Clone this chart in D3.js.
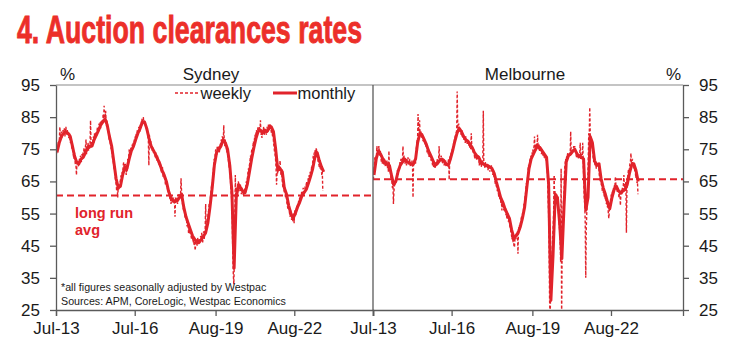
<!DOCTYPE html>
<html><head><meta charset="utf-8">
<script src="https://cdn.jsdelivr.net/npm/d3@7"></script>
<style>
body{margin:0;background:#fff;}
svg{display:block;font-family:"Liberation Sans",Arial,Helvetica,sans-serif;}
</style>
</head><body>
<svg id="chart" width="741" height="355"></svg>
<script>
// ---------- DATA ----------
const titleText = "4. Auction clearances rates";
const panels = ["Sydney", "Melbourne"];
const yTicks = [25, 35, 45, 55, 65, 75, 85, 95];
const xTickDates = ["2013-07-01", "2016-07-01", "2019-08-01", "2022-08-01", "2025-08-01"];
const xTickLabels = ["Jul-13", "Jul-16", "Aug-19", "Aug-22", ""];
const legendLabels = ["weekly", "monthly"];
const longRunAvg = { Sydney: 60.6, Melbourne: 65.7 };
const monthlyStart = [2013, 6];     // first monthly observation: Jul 2013
const weeklyStart = "2013-07-06";   // first weekly observation

const sydMonthly = [
74,77,79,80,80.5,80,79,76,73,71,
70.5,72,72.5,74,75.5,76,76,78,79.5,81,
82.5,83.5,84.5,82.5,79,76,71,66,63,63.5,
67,69.5,69,72,74.5,76,78,80,81.5,83.5,
83.5,81.5,78.5,76,74.8,73.5,72,70.5,68.5,67,
65,62,60,59,59,59,60,61,57,54,
52,50,48,47,46,46,47,48,49,52,
57,63,70,74,75,76,78,77,75,70,
62,38,60,64,63,62,61.5,64,68,72,
75.5,78.5,80.5,81,80,81,80.5,81.5,82,80.5,
75,68.5,69,68,63,61,57.5,55,53.5,55,
57,58.5,60.5,61.5,62.5,64.5,66.5,69,72.5,74,
71.5,69.5,68];

const melMonthly = [
67,72,74.5,73.5,72,71,70.5,70,67,64,
65,68,70,71,72,71,71,70.5,70.5,72,
77,80,79.5,78,76.5,74.5,73,71.5,70,70.5,
71.5,72,71.5,70.5,70,72,74.5,77.5,80,81.5,
80.5,79,78,77.5,76.5,75.5,74,73,72.5,71,
70.5,70,70,69.5,69,67.5,65,62.5,60,58.5,
56.5,55,53.5,50,47.5,48,49,51,53.5,57,
63,69,72,73.5,75,76,75.5,74.5,73.5,72.5,
64,28,42,61,60,52,41,57,71,73,
73.5,74.5,75,73.5,73,72.5,72,56,60,79,
77,71.5,70,70.5,66,63,61,58.5,56.5,60,
62.5,63.5,62,61.5,62,62.5,64,67.5,70,70.5,
68.5,65];

const sydWeekly = [
73.5,74.5,76,75,77.5,76,78,82,78.5,79,80.5,78.5,80,
81,79.5,80,81.5,79,80.5,82,80,79.5,81,80,79,78.5,
80,78.5,77,78,76.5,75,76,74.5,73,72,74,71.5,70,
70,67,71.5,70.5,71,69.5,71,72,71,73,72,71,73.5,
72,74,73,75.5,73,74.5,76,78,73.5,76,75,77,74.5,
76.5,75,77,84,75.5,77,76,78,77.5,79,77,80,78.5,
79,80.5,79,81,82,80.5,81.5,83,82,83.5,81.5,84,83,
84,83,86,84.5,88.5,85,84,87,83.5,82,84,81,80.5,
80,78,79.5,77,76.5,75,76,73.5,72,71.5,70,68.5,69,
66.5,65,64,62,63.5,60,63,62.5,64,63,65,66,67,
66,68,67,70,71,69.5,68,70.5,69,67,70,68,72,
71,73,75,72.5,74,75.5,73.5,75,76.5,75,77,76,78,
77,79,78.5,80,79,81,80.5,79.5,82,81,80.5,83,82,
83,84.5,82.5,84,85,83,84,82.5,83,81.5,82,80.5,81,
79,78,70,79.5,77,76,77.5,75,76,74.5,75.5,74,75,
74,73,72.5,74,72,71.5,73,72,71,70,71.5,69.5,70.5,
69,68,67.5,69.5,66.5,68,67,66,65.5,64,66,64.5,63,
63,61.5,62,60.5,61,59.5,60,58,59.5,60,58.5,59,60,
58,59.5,54,60,58.5,59,60,58,59.5,61,60,59.5,61,
60.5,66,62,60,58,57,56,58,55.5,54,53.5,55,53,
51,52.5,51,49,50.5,48.5,50,49,48,47,49,47.5,46,
47,45,46.5,43.5,45,47,46,45,47.5,46,45.5,47,46,
46.5,48,47,49,47.5,46,48,49.5,47,48.5,50,58,49.5,
51,53,52.5,55,56,58,57,59,61,62.5,64,63,66,
68,70,72,71,73.5,75,74,73,76,74.5,75.5,76,74,
75,77,76.5,78,77,79,78.5,77,82.5,77.5,76,78,76.5,
75.5,74,76,73,72,70.5,69,71,67,63,61,59,52,
42,36,33,40,52,67,58,60,63,62,64,65,64,
63.5,62,64,62.5,61,63,61.5,62,60.5,62,61,63,62,
63.5,65,64,66,67.5,69,68,70,71,73,72,74,75,
74.5,76,77.5,76,78,79.5,78,80,81,79.5,80,82,81,
80.5,82,81,84,79.5,80,78.5,81,80,82,81,79.5,80.5,
81,80,79.5,82,81,80.5,83,82,81.5,83,82.5,81,80,
81,79,80.5,77,76,74,73.5,72,69.5,64,68,67.5,69,
68.5,70,69,71.5,68,67,69,66,64,63,64.5,62,61.5,
61,60,62,59,58,57,56.5,58,56,55,54,56,54.5,
53,54,52.5,53.5,55,52,56,55,54.5,56,57.5,56,58,
57.5,59,58,60,59.5,61,60,62,61,60.5,63,62,61.5,
62,63.5,62.5,64,65,63.5,64,66,65,67,66,68,67,
68,70,69.5,71,73,72,74,73.5,75,73,75.5,74,72.5,
72,71,70.5,69.5,70,69,68.5,69,67,68,62];

const melWeekly = [
65.5,68,70,72.5,71,73,72,76,74,75,73.5,76,74,
73,74.5,72.5,71,73,70.5,72,71.5,70,72,71,69.5,71,
70,71.5,69,70.5,68,74.5,69,70,68,66,67.5,65,63,
64.5,58,62,63.5,65,64,66,65.5,67,68.5,67,69,68.5,
69,71,70,72,70.5,71.5,72,76,71,73,72,70.5,72,
71.5,70,72,71,72.5,70,71,72,70.5,69.5,71,70,71.5,
70,60,71,70.5,71,72,70.5,74,76,78,77,86,80.5,
81,84,80,79,80.5,78.5,80,79,77.5,78.5,77,78,76.5,
77,75.5,76,74,75,73.5,75,72.5,73,74,72,71.5,72.5,
71,70,72,69.5,70,71,69,70.5,71,70,72,70.5,71,
72,76,71,72.5,71.5,73,72,71,70.5,72,71.5,70,71,
70,71.5,69.5,71,70,70.5,71,72,65.5,71.5,73,72,74,
74,75,74.5,76,77,78,77.5,79,79.5,80,81,93,82,
81,83,82,80.5,81,80,79.5,81,79,78.5,80,78,79,
78,77,79,77.5,78,76.5,77,78,76,77,75.5,76.5,75,
80,76,75,74.5,74,75,73.5,72,74,73,72.5,71.5,73,
72,73,71.5,70,72,71,70.5,69.5,71,70,71.5,87,70,
70.5,69,71,70,69.5,70.5,70,68.5,69,70,69.5,68,69.5,
69,70,68.5,68,67,68.5,66.5,67,65.5,64,65,63.5,63,
62,63,61.5,60,61,59.5,60.5,58,59,56,58.5,57,57.5,
56,57,55.5,56,54.5,55,53.5,54.5,55,52.5,53.5,52,51,
50.5,49,48.5,47,48,46,47.5,45,44.5,47,48.5,47,49,
48.5,49.5,42.5,50,50.5,51.5,50,52,53,54,52.5,55,54,
56,58,57.5,60,61,63,64.5,62,66,68,70,69,71,
71.5,72.5,73,72,74,73.5,75,74,76,79,75,74.5,76,
77,75.5,79.5,76,75,76.5,74.5,76,75,74,73.5,75,74,
73,74,72.5,73.5,72,73,71.5,72,70,66,60,55,45,
28,22,30,35,38,42,48,50,55,67,60,62,61,
60,61,59,60.5,58,55,52,50,47,40,69,22,45,
52,56,60,62,69,70.5,72,71,73,72,74,72.5,73.5,
73,74,73,80.5,74,75,73.5,74,75,76,74.5,76,75,
74,73,72.5,74,73,72,73.5,72,73,77,72,73.5,72,
72.5,77,71,66,60,58,52,35,50,55,58,64,72,
80,79,88,79.5,77,76,78,75,74,72,71,73,70.5,
70,71,69,70.5,71,69.5,71,70,67,66,65,66.5,64,
64,62,63,61.5,62,60,61,59.5,60,58,59,57,58,
55,53.5,56,57,58.5,60,61,59,62,61.5,63,62,64,
63,66.5,64,62.5,63,61.5,62,63,60,61,62,57.5,61,
62.5,61,63,62,64,67,62.5,63,64,65,49,63,66,
67,68.5,68,69,70.5,71,73.8,70,71,72,70,69.5,70,
69,68,67.5,66,67,64.5,65,61];

// ---------- LAYOUT ----------
const plotTop = 85, plotBottom = 310;
const panelX = { Sydney: [56, 373], Melbourne: [373, 683] };
const panelEnd = { Sydney: new Date(2025, 7, 1), Melbourne: new Date(2025, 4, 1) };
const red = "#e1232b", axisCol = "#5a5a5a", frameCol = "#8a8a8a", txt = "#1a1a1a";

const svg = d3.select("#chart");
const y = d3.scaleLinear().domain([25, 95]).range([plotBottom, plotTop]);
const parse = d3.timeParse("%Y-%m-%d");
const tickDates = xTickDates.map(parse);
const wStart = parse(weeklyStart);
const mDate = i => new Date(monthlyStart[0], monthlyStart[1] + i, 15);
const wDate = i => d3.timeDay.offset(wStart, 7 * i);

svg.append("text").attr("x", 17).attr("y", 43)
  .attr("font-family", "'Liberation Sans Narrow','Liberation Sans',Arial,sans-serif")
  .attr("font-weight", "bold").attr("font-size", 39).attr("fill", "#ec2f29")
  .attr("stroke", "#ec2f29").attr("stroke-width", 0.9)
  .attr("textLength", 345).attr("lengthAdjust", "spacingAndGlyphs")
  .text(titleText);

const data = {
  Sydney: { monthly: sydMonthly, weekly: sydWeekly },
  Melbourne: { monthly: melMonthly, weekly: melWeekly }
};

panels.forEach((name, pi) => {
  const [x0, x1] = panelX[name];
  const x = d3.scaleTime().domain([tickDates[0], panelEnd[name]]).range([x0, x1]);
  const clipId = "clip" + pi;
  svg.append("clipPath").attr("id", clipId).append("rect")
    .attr("x", x0).attr("y", plotTop).attr("width", x1 - x0).attr("height", plotBottom - plotTop);
  const g = svg.append("g").attr("clip-path", `url(#${clipId})`);

  g.append("line").attr("x1", x0).attr("x2", x1)
    .attr("y1", y(longRunAvg[name])).attr("y2", y(longRunAvg[name]))
    .attr("stroke", red).attr("stroke-width", 2).attr("stroke-dasharray", "7,4");

  const wLine = d3.line().x((d, i) => x(wDate(i))).y(d => y(d));
  const mLine = d3.line().x((d, i) => x(mDate(i))).y(d => y(d));
  g.append("path").attr("d", wLine(data[name].weekly)).attr("fill", "none")
    .attr("stroke", red).attr("stroke-width", 1.4).attr("stroke-dasharray", "3,2");
  g.append("path").attr("d", mLine(data[name].monthly)).attr("fill", "none")
    .attr("stroke", red).attr("stroke-width", 3).attr("stroke-linejoin", "round");

  svg.append("line").attr("x1", x0).attr("x2", x1).attr("y1", plotTop).attr("y2", plotTop)
    .attr("stroke", frameCol).attr("stroke-width", 1.2);

  const ax = d3.axisBottom(x).tickSizeOuter(0).tickSize(6).tickPadding(6)
    .tickValues(pi === 0 ? tickDates : tickDates.slice(0, 4))
    .tickFormat((d, i) => xTickLabels[i]);
  const gx = svg.append("g").attr("transform", `translate(0,${plotBottom})`).call(ax);
  gx.selectAll("text").attr("font-size", 17).attr("fill", txt)
    .attr("font-family", "'Liberation Sans',Arial,sans-serif");
  gx.selectAll("line").attr("stroke", axisCol).attr("stroke-width", 1.3);
  gx.select(".domain").attr("stroke", axisCol).attr("stroke-width", 1.3);

  svg.append("text").attr("x", pi === 0 ? 211 : 525).attr("y", 80)
    .attr("text-anchor", "middle").attr("font-size", 17).attr("fill", txt).text(name);
});

svg.append("line").attr("x1", 373).attr("x2", 373).attr("y1", plotTop).attr("y2", plotBottom)
  .attr("stroke", axisCol).attr("stroke-width", 1.3);

const ayL = d3.axisLeft(y).tickValues(yTicks).tickSize(6).tickSizeOuter(0).tickPadding(10);
const gyL = svg.append("g").attr("transform", "translate(56,0)").call(ayL);
const ayR = d3.axisRight(y).tickValues(yTicks).tickSize(6).tickSizeOuter(0).tickPadding(10);
const gyR = svg.append("g").attr("transform", "translate(683,0)").call(ayR);
[gyL, gyR].forEach(gg => {
  gg.selectAll("text").attr("font-size", 17).attr("fill", txt)
    .attr("font-family", "'Liberation Sans',Arial,sans-serif");
  gg.selectAll("line").attr("stroke", axisCol).attr("stroke-width", 1.3);
  gg.select(".domain").attr("stroke", axisCol).attr("stroke-width", 1.3);
});

svg.append("text").attr("x", 60).attr("y", 80).attr("font-size", 17).attr("fill", txt).text("%");
svg.append("text").attr("x", 666).attr("y", 80).attr("font-size", 17).attr("fill", txt).text("%");

svg.append("line").attr("x1", 175).attr("x2", 200).attr("y1", 93).attr("y2", 93)
  .attr("stroke", red).attr("stroke-width", 1.4).attr("stroke-dasharray", "3,2");
svg.append("text").attr("x", 200.5).attr("y", 99).attr("font-size", 16.5).attr("fill", txt).text(legendLabels[0]);
svg.append("line").attr("x1", 273).attr("x2", 297).attr("y1", 93).attr("y2", 93)
  .attr("stroke", red).attr("stroke-width", 3);
svg.append("text").attr("x", 297.5).attr("y", 99).attr("font-size", 16.5).attr("fill", txt).text(legendLabels[1]);

svg.append("text").attr("x", 75).attr("y", 218).attr("font-size", 14.5).attr("font-weight", "bold")
  .attr("fill", red).text("long run");
svg.append("text").attr("x", 75).attr("y", 235).attr("font-size", 14.5).attr("font-weight", "bold")
  .attr("fill", red).text("avg");

svg.append("text").attr("x", 61).attr("y", 291).attr("font-size", 10.7).attr("fill", txt)
  .text("*all figures seasonally adjusted by Westpac");
svg.append("text").attr("x", 61).attr("y", 305).attr("font-size", 10.7).attr("fill", txt)
  .text("Sources: APM, CoreLogic, Westpac Economics");
</script>
</body></html>
